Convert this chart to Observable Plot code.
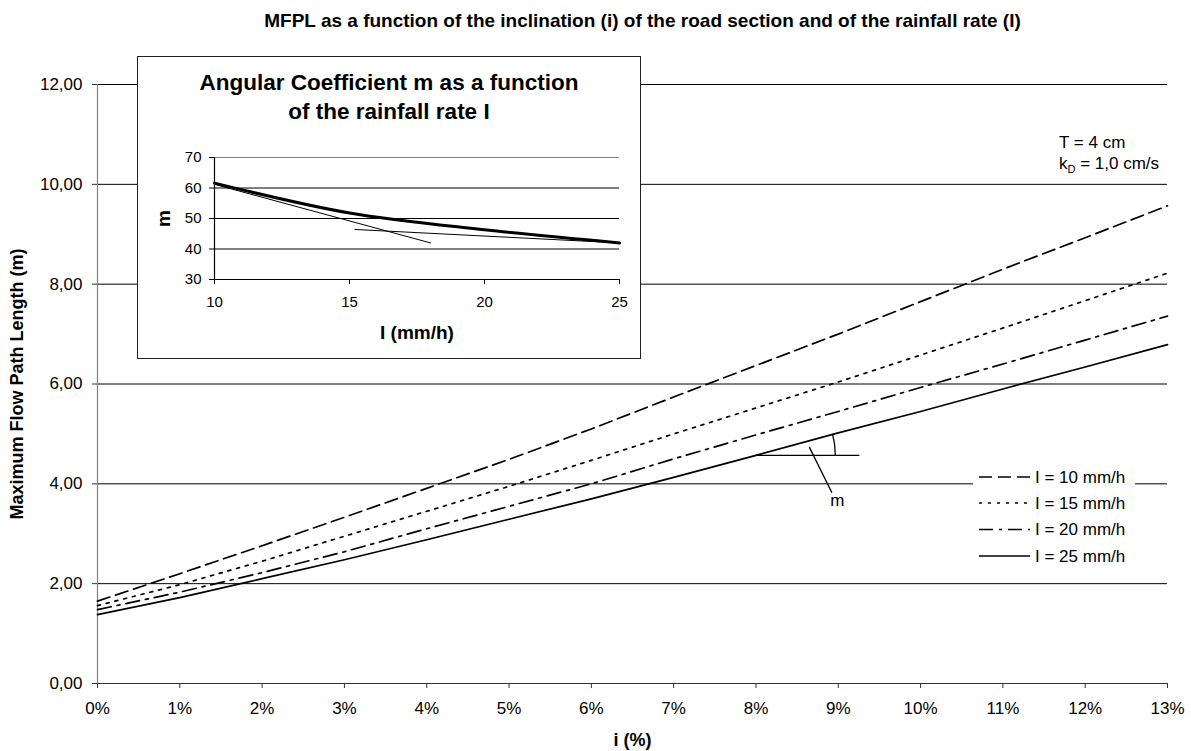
<!DOCTYPE html>
<html><head><meta charset="utf-8">
<script src="https://cdn.jsdelivr.net/npm/d3@7"></script>
<script src="https://cdn.jsdelivr.net/npm/@observablehq/plot@0.6"></script>
<style>
body{margin:0;background:#fff;font-family:"Liberation Sans",Arial,sans-serif;}
#wrap{position:relative;width:1191px;height:751px;overflow:hidden;}
#main{position:absolute;left:0;top:0;}
#inset{position:absolute;left:137px;top:56px;width:502px;height:301px;border:1.5px solid #222;background:#fff;}
#insetTitle{position:absolute;left:0;top:12px;width:100%;text-align:center;font-weight:bold;font-size:22.5px;line-height:28.5px;}
#legend{position:absolute;left:973px;top:465px;}
#note{position:absolute;left:1059px;top:132px;font-size:17px;line-height:21px;}
#note sub{font-size:11px;}
svg{font-family:"Liberation Sans",Arial,sans-serif;}
</style></head><body>
<div id="wrap"><div id="main"></div><div id="inset"><div id="insetTitle"></div></div><div id="legend"></div><div id="note"></div></div>
<script>
// ---- data ----
const slopePct = [0,1,2,3,4,5,6,7,8,9,10,11,12,13];
const mfplI10 = [1.65,2.20,2.76,3.33,3.91,4.49,5.10,5.74,6.37,7.00,7.65,8.30,8.93,9.57];
const mfplI15 = [1.56,1.98,2.45,2.95,3.45,3.95,4.47,5.00,5.52,6.04,6.58,7.12,7.67,8.22];
const mfplI20 = [1.48,1.83,2.22,2.64,3.10,3.55,4.00,4.50,4.98,5.45,5.93,6.40,6.88,7.36];
const mfplI25 = [1.38,1.72,2.10,2.48,2.88,3.29,3.70,4.13,4.57,5.02,5.45,5.90,6.34,6.79];
const seriesLabels = ["I = 10 mm/h","I = 15 mm/h","I = 20 mm/h","I = 25 mm/h"];
const yTicks = [0,2,4,6,8,10,12];
const xTicks = slopePct;

const rainfall = [10,15,20,25];
const angularCoeff = [61.6,51.8,46.3,42.0];
const tangentA_I = [10,18], tangentA_m = [61.2,42.0];
const tangentB_I = [15.2,25], tangentB_m = [46.4,42.0];
const insetXTicks = [10,15,20,25];
const insetYTicks = [30,40,50,60,70];

const mainTitle = "MFPL as a function of the inclination (i) of the road section and of the rainfall rate (I)";
const yLabel = "Maximum Flow Path Length (m)";
const xLabel = "i (%)";
const insetTitle = ["Angular Coefficient m as a function","of the rainfall rate I"];
const insetYLabel = "m";
const insetXLabel = "I (mm/h)";
const noteLines = ["T = 4 cm","k<sub>D</sub> = 1,0 cm/s"];

// annotation of the angle m on the I = 25 mm/h line
const angleAnchorIdx = 8;      // slopePct index where the angle starts
const angleRefEnd = 9.25;      // end of horizontal reference (i, %)
const leaderI = [8.65, 8.92], leaderV = [4.73, 3.83];
const mLabelPos = [8.99, 3.66];

// ---- styles ----
const dashes = ["13,6","3,6","14,6,3,6",null];
const seriesValues = [mfplI10,mfplI15,mfplI20,mfplI25];

const fmtY = d => d.toFixed(2).replace(".", ",");
const rows = seriesValues.map(vals => slopePct.map((i,k) => ({i, v: vals[k]})));

const anchorI = slopePct[angleAnchorIdx], anchorV = mfplI25[angleAnchorIdx];
const nextI = slopePct[angleAnchorIdx+1], nextV = mfplI25[angleAnchorIdx+1];

const arcMark = (index, scales) => {
  const cx = scales.x(anchorI), cy = scales.y(anchorV);
  const r = scales.x(anchorI + 0.97) - cx;
  const th = Math.atan2(scales.y(anchorV) - scales.y(nextV), scales.x(nextI) - scales.x(anchorI));
  const x2 = cx + r*Math.cos(th), y2 = cy - r*Math.sin(th);
  const p = d3.create("svg:path")
    .attr("d", `M${cx+r},${cy} A${r},${r} 0 0 0 ${x2},${y2}`)
    .attr("fill","none").attr("stroke","black").attr("stroke-width",1.3);
  return p.node();
};

const main = Plot.plot({
  width: 1191, height: 751,
  marginLeft: 97, marginRight: 24, marginTop: 84, marginBottom: 68,
  style: {fontFamily: '"Liberation Sans", Arial, sans-serif', fontSize: "17px", color: "black", background: "white"},
  x: {domain: [0,13]},
  y: {domain: [0,12]},
  marks: [
    Plot.ruleY(yTicks.filter(d => d > 0), {stroke: "black", strokeWidth: 1}),
    Plot.ruleX([0], {y1: 0, y2: 12, stroke: "#808080", strokeWidth: 1.2}),
    Plot.ruleY([0], {stroke: "#333", strokeWidth: 1.2}),
    Plot.axisX({ticks: xTicks, tickFormat: d => d + "%", tickSize: 5, tickPadding: 13, fontSize: 17, label: null, stroke: "#333"}),
    Plot.axisY({ticks: yTicks, tickFormat: fmtY, tickSize: 5, tickPadding: 10, fontSize: 17, label: null, stroke: "#333"}),
    ...rows.map((r,k) => Plot.line(r, {x: "i", y: "v", stroke: "black", strokeWidth: 1.7, strokeDasharray: dashes[k] || undefined})),
    Plot.line([{i: anchorI, v: anchorV},{i: angleRefEnd, v: anchorV}], {x: "i", y: "v", stroke: "black", strokeWidth: 1.3}),
    arcMark,
    Plot.line(leaderI.map((i,k) => ({i, v: leaderV[k]})), {x: "i", y: "v", stroke: "black", strokeWidth: 1.3}),
    Plot.text([{i: mLabelPos[0], v: mLabelPos[1], t: "m"}], {x: "i", y: "v", text: "t", fontSize: 17}),
    Plot.text([mainTitle], {frameAnchor: "top", dy: -64, dx: 10, lineAnchor: "middle", fontSize: 19, fontWeight: "bold"}),
    Plot.text([yLabel], {frameAnchor: "left", dx: -80, rotate: -90, textAnchor: "middle", fontSize: 18, fontWeight: "bold"}),
    Plot.text([xLabel], {frameAnchor: "bottom", dy: 57, lineAnchor: "middle", fontSize: 18, fontWeight: "bold"})
  ]
});
document.getElementById("main").append(main);

// ---- inset ----
const inset = Plot.plot({
  width: 502, height: 301,
  marginLeft: 76, marginRight: 21, marginTop: 100, marginBottom: 79,
  style: {fontFamily: '"Liberation Sans", Arial, sans-serif', fontSize: "15px", color: "black", background: "transparent"},
  x: {domain: [10,25]},
  y: {domain: [30,70]},
  marks: [
    Plot.ruleY(insetYTicks.filter(d => d > 30 && d < 70), {stroke: "black", strokeWidth: 1}),
    Plot.ruleY([70], {stroke: "#808080", strokeWidth: 1.2}),
    Plot.ruleX([10], {y1: 30, y2: 70, stroke: "black", strokeWidth: 1.2}),
    Plot.ruleY([30], {stroke: "black", strokeWidth: 1.2}),
    Plot.axisX({ticks: insetXTicks, tickSize: 5, tickPadding: 12, fontSize: 15, label: null}),
    Plot.axisY({ticks: insetYTicks, tickSize: 5, tickPadding: 8, fontSize: 15, label: null}),
    Plot.line(tangentA_I.map((I,k) => ({I, m: tangentA_m[k]})), {x: "I", y: "m", stroke: "black", strokeWidth: 1}),
    Plot.line(tangentB_I.map((I,k) => ({I, m: tangentB_m[k]})), {x: "I", y: "m", stroke: "black", strokeWidth: 1}),
    Plot.line(rainfall.map((I,k) => ({I, m: angularCoeff[k]})), {x: "I", y: "m", stroke: "black", strokeWidth: 3, curve: "catmull-rom"}),
    Plot.text([insetYLabel], {frameAnchor: "left", dx: -51, rotate: -90, textAnchor: "middle", fontSize: 19, fontWeight: "bold"}),
    Plot.text([insetXLabel], {frameAnchor: "bottom", dy: 53, lineAnchor: "middle", fontSize: 19, fontWeight: "bold"})
  ]
});
inset.style.position = "absolute"; inset.style.left = "0"; inset.style.top = "0";
document.getElementById("inset").append(inset);
document.getElementById("insetTitle").innerHTML = insetTitle.join("<br>");

// ---- legend ----
const leg = d3.select("#legend").append("svg").attr("width", 162).attr("height", 104);
leg.append("rect").attr("width", 162).attr("height", 104).attr("fill", "white");
const rowY = [12, 38, 64.5, 91];
seriesLabels.forEach((lab,k) => {
  leg.append("line").attr("x1", 6).attr("x2", 57).attr("y1", rowY[k]).attr("y2", rowY[k])
    .attr("stroke", "black").attr("stroke-width", 1.6).attr("stroke-dasharray", dashes[k]);
  leg.append("text").attr("x", 62).attr("y", rowY[k]).attr("dy", "0.35em")
    .attr("font-size", 17).text(lab);
});

document.getElementById("note").innerHTML = noteLines.join("<br>");
</script>
</body></html>
